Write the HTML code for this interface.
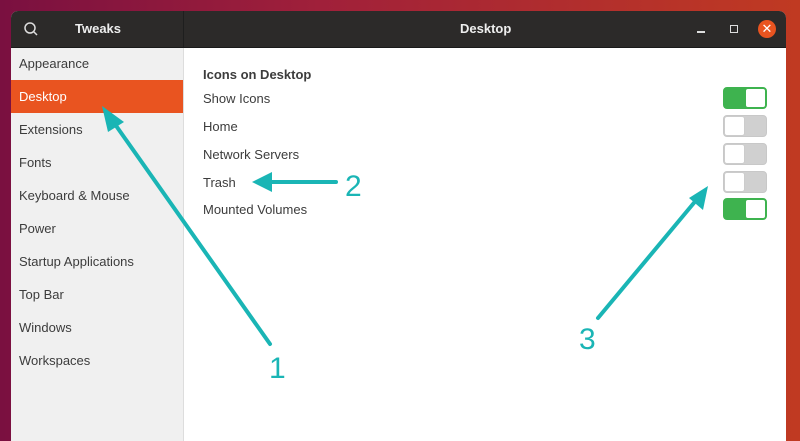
<!DOCTYPE html>
<html><head><style>
body{margin:0;width:800px;height:425px;overflow:hidden;background:linear-gradient(90deg,#7a1040 0%,#a0203a 40%,#c03a22 100%);font-family:"Liberation Sans",sans-serif;position:relative}
.win{position:absolute;left:11px;top:11px;width:775px;height:430px;border-radius:7px 7px 0 0;overflow:hidden;background:#fff}
.hdr{position:absolute;left:0;top:0;width:775px;height:36px;background:#2c2a29;border-bottom:1px solid #1a1a1a}
.side{position:absolute;left:0;top:37px;width:172px;height:400px;background:#f0f0f0;border-right:1px solid #ddd}
.item{position:absolute;left:8px;font-size:13px;color:#3c3c3c}
.sel{position:absolute;left:0;top:32px;width:172px;height:33px;background:#e95420}
.lbl{position:absolute;left:192px;font-size:13px;color:#3c3c3c}
.tg{position:absolute;left:712px;width:44px;height:22px;border-radius:4px;box-sizing:border-box}
.on{background:#3eb34f;border:1px solid #3eb34f}
.off{background:#d0d0d0;border:1px solid #c8c8c8}
.knob{position:absolute;top:0;width:21px;height:20px;background:#fff;border-radius:3px;box-sizing:border-box;border:1px solid #ccc}
</style></head><body>
<div class="win">
 <div class="hdr">
  <svg style="position:absolute;left:12px;top:10px" width="16" height="16"><circle cx="7" cy="7" r="5" stroke="#ddd" stroke-width="1.5" fill="none"/><line x1="11" y1="11" x2="14" y2="14" stroke="#ddd" stroke-width="1.5"/></svg>
  <div style="position:absolute;left:64px;top:10px;color:#eee;font-weight:bold;font-size:13px">Tweaks</div>
  <div style="position:absolute;left:172px;top:0;width:1px;height:36px;background:#1e1e1e"></div>
  <div style="position:absolute;left:449px;top:10px;color:#eee;font-weight:bold;font-size:13px">Desktop</div>
  <div style="position:absolute;left:686px;top:20px;width:8px;height:1.5px;background:#ddd"></div>
  <div style="position:absolute;left:719px;top:14px;width:6px;height:6px;border:1.5px solid #ddd"></div>
  <div style="position:absolute;left:747px;top:9px;width:18px;height:18px;border-radius:50%;background:#e95420;color:#fff;font-size:13px;text-align:center;line-height:18px">✕</div>
 </div>
 <div class="side">
  <div class="sel"></div>
  <div class="item" style="top:8px">Appearance</div>
  <div class="item" style="top:41px;color:#fff">Desktop</div>
  <div class="item" style="top:74px">Extensions</div>
  <div class="item" style="top:107px">Fonts</div>
  <div class="item" style="top:140px">Keyboard &amp; Mouse</div>
  <div class="item" style="top:173px">Power</div>
  <div class="item" style="top:206px">Startup Applications</div>
  <div class="item" style="top:239px">Top Bar</div>
  <div class="item" style="top:272px">Windows</div>
  <div class="item" style="top:305px">Workspaces</div>
 </div>
 <div class="lbl" style="top:56px;font-weight:bold">Icons on Desktop</div>
 <div class="lbl" style="top:80px">Show Icons</div>
 <div class="lbl" style="top:108px">Home</div>
 <div class="lbl" style="top:136px">Network Servers</div>
 <div class="lbl" style="top:164px">Trash</div>
 <div class="lbl" style="top:191px">Mounted Volumes</div>
 <div class="tg on" style="top:76px"><div class="knob" style="right:0;border-color:#3eb34f"></div></div>
 <div class="tg off" style="top:104px"><div class="knob" style="left:0"></div></div>
 <div class="tg off" style="top:132px"><div class="knob" style="left:0"></div></div>
 <div class="tg off" style="top:160px"><div class="knob" style="left:0"></div></div>
 <div class="tg on" style="top:187px"><div class="knob" style="right:0;border-color:#3eb34f"></div></div>
</div>
<svg style="position:absolute;left:0;top:0" width="800" height="425">
 <g stroke="#1ab5b5" stroke-width="4" stroke-linecap="round" fill="#1ab5b5">
  <line x1="270" y1="344" x2="112" y2="120"/>
  <line x1="336" y1="182" x2="266" y2="182"/>
  <line x1="598" y1="318" x2="698" y2="198"/>
 </g>
 <g fill="#1ab5b5">
  <polygon points="102,106 124,122 108,132"/>
  <polygon points="252,182 272,172 272,192"/>
  <polygon points="708,186 703,210 689,198"/>
 </g>
 <g fill="#1ab5b5" font-size="30" font-family="Liberation Sans,sans-serif">
  <text x="269" y="378">1</text>
  <text x="345" y="196">2</text>
  <text x="579" y="349">3</text>
 </g>
</svg>
</body></html>
